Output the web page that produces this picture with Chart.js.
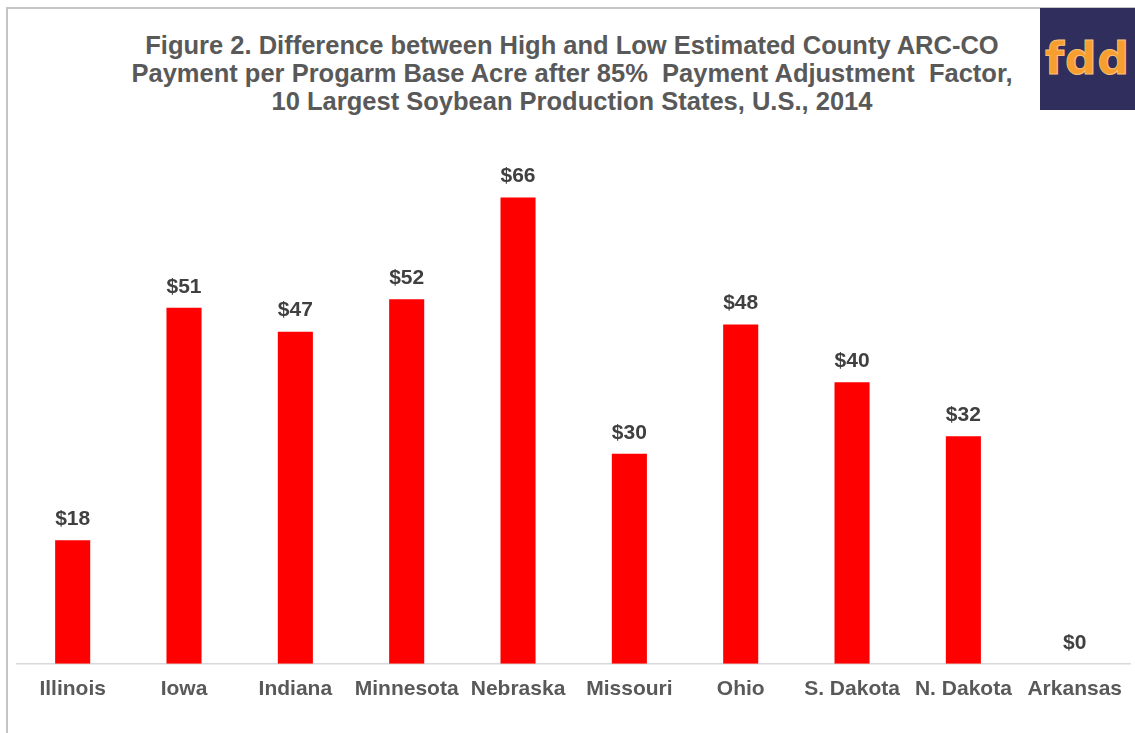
<!DOCTYPE html>
<html>
<head>
<meta charset="utf-8">
<script src="https://cdn.jsdelivr.net/npm/chart.js@4"></script>
<style>
  html, body { margin: 0; padding: 0; background: #fff; }
  body { width: 1135px; height: 733px; position: relative; overflow: hidden; font-family: "Liberation Sans", Arial, sans-serif; }
  #frame { position: absolute; left: 6px; top: 7px; width: 1300px; height: 900px; border-left: 2px solid #c4c4c4; border-top: 2px solid #c4c4c4; }
  #title { position: absolute; left: 22px; width: 1100px; top: 31px; text-align: center; color: #595959; font-weight: bold; font-size: 25.5px; line-height: 28px; }
  #logo { position: absolute; left: 1040px; top: 8px; width: 95px; height: 102px; background: #302e5d; color: #f79e2e; font-family: "DejaVu Sans", sans-serif; font-weight: bold; font-size: 44px; line-height: 102px; text-align: center; letter-spacing: 1px; -webkit-text-stroke: 1px #f7c07a; }
  #wrap { position: absolute; left: 0; top: 0; width: 1135px; height: 733px; }
</style>
</head>
<body>
<div id="frame"></div>
<div id="title">Figure 2. Difference between High and Low Estimated County ARC-CO<br>Payment per Progarm Base Acre after 85%&nbsp; Payment Adjustment&nbsp; Factor,<br>10 Largest Soybean Production States, U.S., 2014</div>
<div id="logo">fdd</div>
<div id="wrap"><canvas id="c" width="1135" height="733"></canvas></div>
<script>
const states = ["Illinois", "Iowa", "Indiana", "Minnesota", "Nebraska", "Missouri", "Ohio", "S. Dakota", "N. Dakota", "Arkansas"];
const paymentDiff = [17.6, 50.7, 47.3, 51.9, 66.4, 29.9, 48.3, 40.1, 32.4, 0];

const valueLabels = {
  id: 'valueLabels',
  afterDatasetsDraw(chart) {
    const ctx = chart.ctx;
    const meta = chart.getDatasetMeta(0);
    ctx.save();
    ctx.font = 'bold 21px "Liberation Sans", Arial, sans-serif';
    ctx.fillStyle = '#404040';
    ctx.textAlign = 'center';
    ctx.textBaseline = 'middle';
    meta.data.forEach((bar, i) => {
      const v = chart.data.datasets[0].data[i];
      ctx.fillText('$' + Math.round(v), bar.x, bar.y - 21);
    });
    ctx.restore();
  }
};

new Chart(document.getElementById('c'), {
  type: 'bar',
  data: {
    labels: states,
    datasets: [{
      data: paymentDiff,
      backgroundColor: '#ff0000',
      borderWidth: 0,
      barPercentage: 0.9,
      categoryPercentage: 0.35
    }]
  },
  options: {
    responsive: false,
    animation: false,
    layout: { padding: { left: 17, right: 0, top: 102, bottom: 18 } },
    plugins: { legend: { display: false }, title: { display: false }, tooltip: { enabled: false } },
    scales: {
      x: {
        grid: { display: false, drawTicks: false },
        border: { display: true, color: '#d9d9d9', width: 1.5 },
        ticks: {
          color: '#595959',
          font: { family: '"Liberation Sans", Arial, sans-serif', size: 21, weight: 'bold' },
          padding: 13,
          maxRotation: 0,
          autoSkip: false
        }
      },
      y: { display: false, min: 0, max: 80 }
    }
  },
  plugins: [valueLabels]
});
</script>
</body>
</html>
